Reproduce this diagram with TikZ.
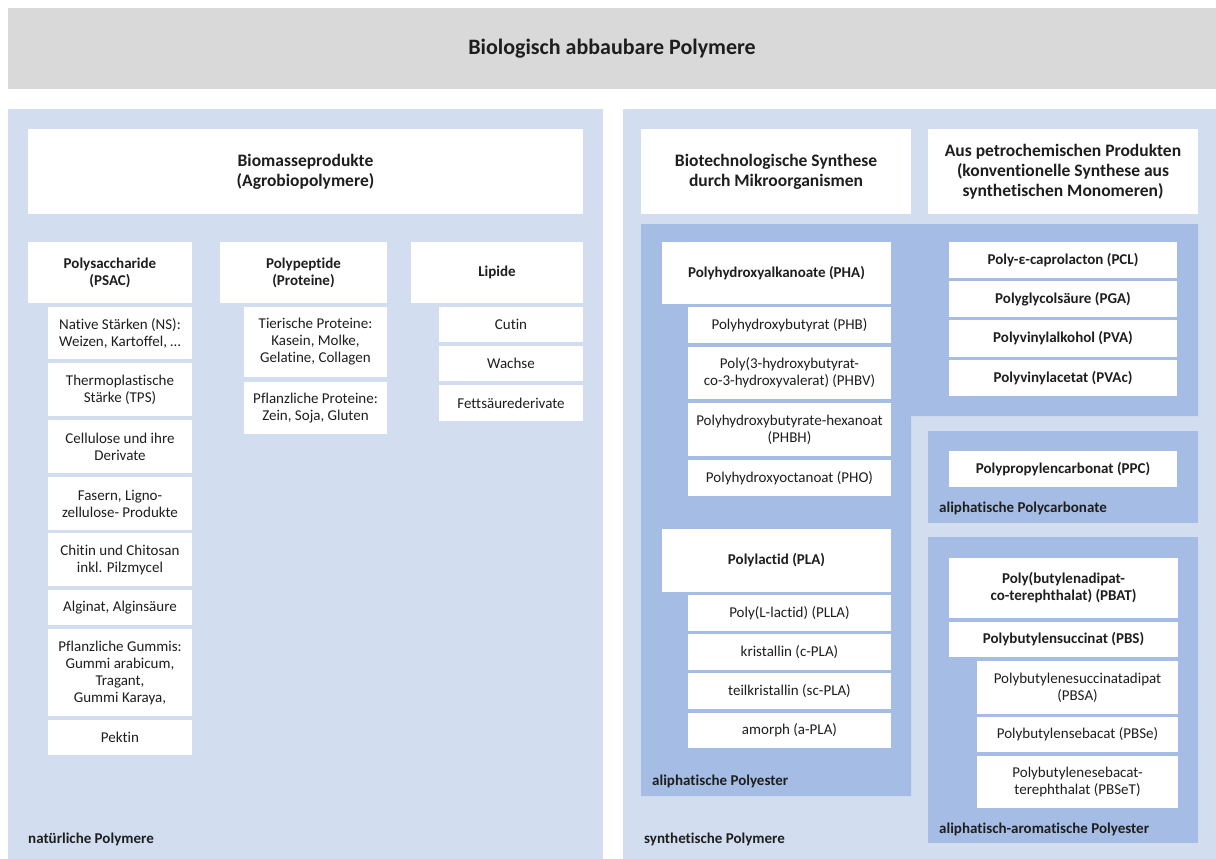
\documentclass[tikz,border=0pt]{standalone}
\usepackage{fontspec}
\setmainfont{Carlito}[Ligatures=NoCommon]

\definecolor{titlegray}{HTML}{D9D9D9}
\definecolor{panelblue}{HTML}{D3DDF0}
\definecolor{groupblue}{HTML}{A5BDE4}
\definecolor{inkgray}{HTML}{1E1E1E}

\tikzset{
  cell/.style={fill=white, inner sep=0pt, align=center, text=inkgray, font=\fontsize{15}{17}\selectfont},
  cellbold/.style={cell, font=\bfseries\fontsize{15}{17}\selectfont},
  header/.style={cell, font=\bfseries\fontsize{17.5}{20}\selectfont},
  tag/.style={anchor=west, inner sep=0pt, text=inkgray, font=\bfseries\fontsize{15}{17}\selectfont},
}

\begin{document}
\begin{tikzpicture}[x=1pt, y=-1pt]
  \useasboundingbox (0,0) rectangle (1216,859);
  \node[fill=titlegray, minimum width=1208pt, minimum height=81pt, inner sep=0pt, text=inkgray, font=\bfseries\fontsize{22}{26}\selectfont] (title) at (612,48.5) {Biologisch abbaubare Polymere};

  \fill[panelblue] (8,109) rectangle (603,859);
  \fill[panelblue] (623,109) rectangle (1216,859);
  \fill[groupblue] (641,224) -- (1198,224) -- (1198,416) -- (911,416) -- (911,796) -- (641,796) -- cycle;
  \fill[groupblue] (928,431) rectangle (1198,523);
  \fill[groupblue] (928,537) rectangle (1198,843);

  \foreach \name/\xa/\ya/\xb/\yb/\txt in {
    bio/28/129/583/214/{Biomasseprodukte\\(Agrobiopolymere)},
    biotech/641/129/911/214/{Biotechnologische Synthese\\durch Mikroorganismen},
    petro/928/129/1198/214/{Aus petrochemischen Produkten\\(konventionelle Synthese aus\\synthetischen Monomeren)}}
    \node[header, minimum width={(\xb-\xa)*1pt}, minimum height={(\yb-\ya)*1pt}] (\name) at ({(\xa+\xb)/2},{(\ya+\yb)/2}) {\txt};

  \foreach \name/\xa/\ya/\xb/\yb/\txt in {
    psac/28/242/192/303/{Polysaccharide\\(PSAC)}, ppep/220/242/387/303/{Polypeptide\\(Proteine)},
    lipide/411/242/583/303/Lipide,
    pha/662/242/891/304/{Polyhydroxyalkanoate (PHA)}, pla/662/529/891/592/{Polylactid (PLA)},
    pcl/949/242/1177/278/{Poly-ε-caprolacton (PCL)}, pga/949/281/1177/317/{Polyglycolsäure (PGA)},
    pva/949/320/1177/357/{Polyvinylalkohol (PVA)}, pvac/949/360/1177/396/{Polyvinylacetat (PVAc)},
    ppc/949/451/1177/487/{Polypropylencarbonat (PPC)},
    pbat/949/558/1178/618/{Poly(butylenadipat-\\co-terephthalat) (PBAT)},
    pbs/949/622/1178/657/{Polybutylensuccinat (PBS)}}
    \node[cellbold, minimum width={(\xb-\xa)*1pt}, minimum height={(\yb-\ya)*1pt}] (\name) at ({(\xa+\xb)/2},{(\ya+\yb)/2}) {\txt};

  \foreach \name/\xa/\ya/\xb/\yb/\txt in {
    ns/48/307/192/359/{Native Stärken (NS):\\Weizen, Kartoffel, …},
    tps/48/363/192/416/{Thermoplastische\\Stärke (TPS)},
    cellu/48/420/192/473/{Cellulose und ihre\\Derivate},
    fas/48/477/192/530/{Fasern, Ligno-\\zellulose- Produkte},
    chit/48/533/192/586/{Chitin und Chitosan\\inkl. Pilzmycel},
    alg/48/590/192/625/{Alginat, Alginsäure},
    gum/48/629/192/716/{Pflanzliche Gummis:\\Gummi arabicum,\\Tragant,\\Gummi Karaya,},
    pek/48/720/192/755/Pektin,
    tier/244/307/387/377/{Tierische Proteine:\\Kasein, Molke,\\Gelatine, Collagen},
    pflp/244/382/387/434/{Pflanzliche Proteine:\\Zein, Soja, Gluten},
    cutin/439/307/583/342/Cutin, wachs/439/346/583/381/Wachse,
    fett/439/385/583/421/Fettsäurederivate,
    phb/688/307/891/343/{Polyhydroxybutyrat (PHB)},
    phbv/688/347/891/399/{Poly(3-hydroxybutyrat-\\co-3-hydroxyvalerat) (PHBV)},
    phbh/688/403/891/456/{Polyhydroxybutyrate-hexanoat\\(PHBH)},
    pho/688/460/891/496/{Polyhydroxyoctanoat (PHO)},
    plla/688/595/891/631/{Poly(L-lactid) (PLLA)}, cpla/688/634/891/670/{kristallin (c-PLA)},
    scpla/688/673/891/709/{teilkristallin (sc-PLA)}, apla/688/713/891/748/{amorph (a-PLA)},
    pbsa/977/661/1178/714/{Polybutylenesuccinatadipat\\(PBSA)},
    pbse/977/717/1178/752/{Polybutylensebacat (PBSe)},
    pbset/977/756/1178/808/{Polybutylenesebacat-\\terephthalat (PBSeT)}}
    \node[cell, minimum width={(\xb-\xa)*1pt}, minimum height={(\yb-\ya)*1pt}] (\name) at ({(\xa+\xb)/2},{(\ya+\yb)/2}) {\txt};

  \node[tag] (natlab) at (28,839) {natürliche Polymere};
  \node[tag] (synlab) at (644,839) {synthetische Polymere};
  \node[tag] (estlab) at (652,781) {aliphatische Polyester};
  \node[tag] (carblab) at (939,508) {aliphatische Polycarbonate};
  \node[tag] (aromlab) at (939,829) {aliphatisch-aromatische Polyester};
\end{tikzpicture}
\end{document}
